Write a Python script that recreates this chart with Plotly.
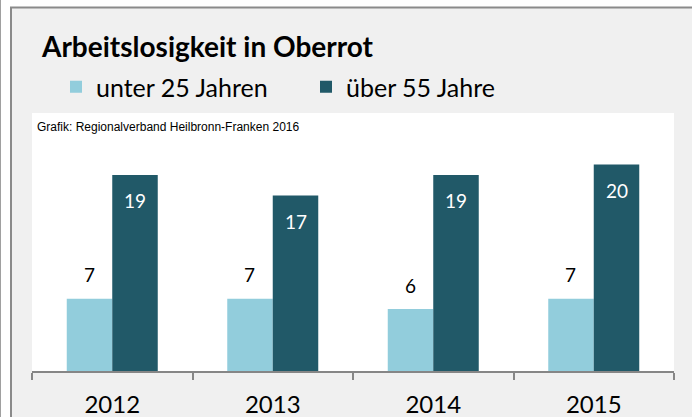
import plotly.graph_objects as go

years = ["2012", "2013", "2014", "2015"]
unter25 = [7, 7, 6, 7]
ueber55 = [19, 17, 19, 20]
series_names = ["unter 25 Jahren", "über 55 Jahre"]
colors = ["#92CDDC", "#215968"]

W, H = 692, 417
L, R, T, B = 32, 18, 113, 46
pw, ph = W - L - R, H - T - B

def px(x):
    return (x - L) / pw

def py(y):
    return (H - B - y) / ph

fig = go.Figure()
fig.add_trace(go.Bar(x=years, y=unter25, name=series_names[0], marker_color=colors[0],
                     marker_line_width=0))
fig.add_trace(go.Bar(x=years, y=ueber55, name=series_names[1], marker_color=colors[1],
                     marker_line_width=0))

bargap = 0.433
slot = pw / len(years)
barw = slot * (1 - bargap) / 2

annotations = []
for i, v in enumerate(unter25):
    annotations.append(dict(x=i, y=v, xref="x", yref="y", text=str(v), showarrow=False,
                            xshift=-barw / 2, yshift=24, font=dict(family="Lato", size=19, color="#000000")))
for i, v in enumerate(ueber55):
    annotations.append(dict(x=i, y=v, xref="x", yref="y", text=str(v), showarrow=False,
                            xshift=barw / 2, yshift=-26, font=dict(family="Lato", size=19, color="#FFFFFF")))
annotations.append(dict(x=px(35), y=py(127), xref="paper", yref="paper", xanchor="left", yanchor="middle",
                        text="Grafik: Regionalverband Heilbronn-Franken 2016", showarrow=False,
                        font=dict(family="Liberation Sans", size=12, color="#000000")))

border = "#8a8a8a"
shapes = [
    dict(type="rect", xref="paper", yref="paper", x0=px(-2), x1=px(10), y0=py(H + 2), y1=py(-2),
         fillcolor="#FFFFFF", line_width=0, layer="above"),
    dict(type="rect", xref="paper", yref="paper", x0=px(-2), x1=px(W + 2), y0=py(7), y1=py(-2),
         fillcolor="#FFFFFF", line_width=0, layer="above"),
    dict(type="line", xref="paper", yref="paper", x0=px(0.5), x1=px(0.5), y0=py(H + 2), y1=py(-2),
         line=dict(color="#a0a0a0", width=1), layer="above"),
    dict(type="line", xref="paper", yref="paper", x0=px(11), x1=px(11), y0=py(H + 2), y1=py(7.5),
         line=dict(color=border, width=2), layer="above"),
    dict(type="line", xref="paper", yref="paper", x0=px(10), x1=px(W + 2), y0=py(7.5), y1=py(7.5),
         line=dict(color=border, width=2), layer="above"),
]

fig.update_layout(
    width=W, height=H,
    margin=dict(l=L, r=R, t=T, b=B, pad=0, autoexpand=False),
    paper_bgcolor="#F0F0F0",
    plot_bgcolor="#FFFFFF",
    barmode="group",
    bargap=bargap,
    bargroupgap=0,
    title=dict(text="<b>Arbeitslosigkeit in Oberrot</b>", xref="container", yref="container",
               x=42 / W, y=1 - 47 / H, xanchor="left", yanchor="middle",
               font=dict(family="Lato", size=28, color="#000000")),
    legend=dict(orientation="h", xref="container", yref="container", x=56 / W, y=1 - 87 / H,
                xanchor="left", yanchor="middle", bgcolor="rgba(0,0,0,0)",
                font=dict(family="Lato", size=25, color="#000000"),
                entrywidth=205, entrywidthmode="pixels", itemwidth=30),
    xaxis=dict(type="category", range=[-0.5, 3.5], showgrid=False, showline=True,
               linecolor="#868686", linewidth=2,
               ticks="outside", tickson="boundaries", ticklen=7, tickwidth=2, tickcolor="#868686",
               ticklabelstandoff=11, tickangle=0, automargin=False,
               tickfont=dict(family="Lato", size=24, color="#000000"), zeroline=False),
    yaxis=dict(range=[0, 25], visible=False, showgrid=False, zeroline=False, automargin=False),
    annotations=annotations,
    shapes=shapes,
    font=dict(family="Lato"),
)

fig.write_html("out.html", config={"displayModeBar": False},
               post_script="document.body.style.margin='0';document.body.style.overflow='hidden';")
